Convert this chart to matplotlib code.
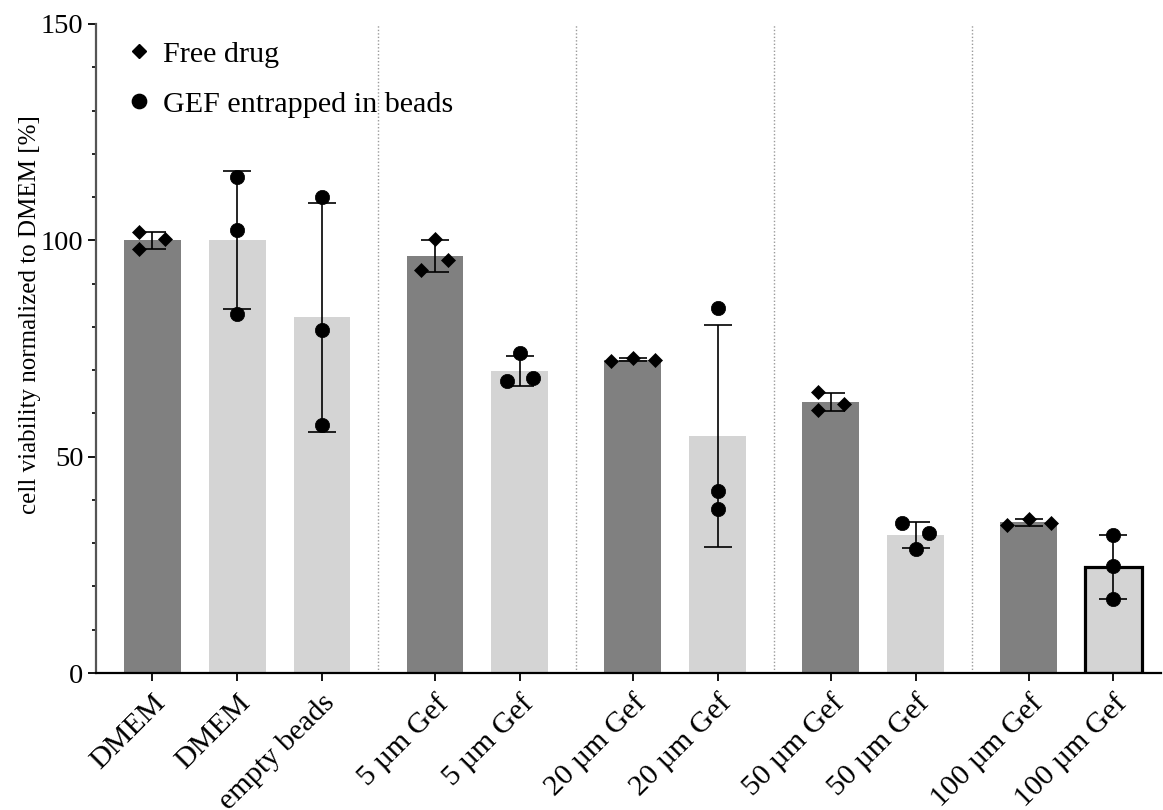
import numpy as np
import matplotlib
matplotlib.use("Agg")
import matplotlib.pyplot as plt
from matplotlib.lines import Line2D
from matplotlib.ticker import MultipleLocator

plt.rcParams['font.family'] = ['Liberation Serif', 'DejaVu Serif']

# ---- data -------------------------------------------------------------
categories = ["DMEM", "DMEM", "empty beads",
              "5 µm Gef", "5 µm Gef",
              "20 µm Gef", "20 µm Gef",
              "50 µm Gef", "50 µm Gef",
              "100 µm Gef", "100 µm Gef"]
formulation = ["free", "beads", "beads",
               "free", "beads",
               "free", "beads",
               "free", "beads",
               "free", "beads"]
group = [0, 0, 0, 1, 1, 2, 2, 3, 3, 4, 4]

# individual replicates (% viability relative to DMEM)
replicates = [
    [101.9, 97.9, 100.2],
    [114.6, 102.4, 83.0],
    [110.0, 79.2, 57.4],
    [100.4, 95.5, 93.1],
    [73.9, 67.4, 68.2],
    [72.2, 72.8, 72.3],
    [84.4, 42.1, 37.9],
    [65.0, 60.9, 62.1],
    [34.7, 32.3, 28.7],
    [34.2, 35.7, 34.6],
    [31.9, 24.7, 17.1],
]

# horizontal spread of the replicate symbols so overlapping points stay visible
spread = [
    [-0.16, -0.16, 0.155],
    [0, 0, 0],
    [0, 0, 0],
    [0, 0.155, -0.16],
    [0, -0.155, 0.155],
    [-0.26, 0, 0.26],
    [0, 0, 0],
    [-0.155, -0.155, 0.155],
    [-0.155, 0.155, 0],
    [-0.26, 0, 0.26],
    [0, 0, 0],
]

# ---- layout -------------------------------------------------------------
group_gap = 1 / 3
x = np.arange(len(categories)) + np.array(group) * group_gap
means = np.array([np.mean(r) for r in replicates])
sds = np.array([np.std(r, ddof=1) for r in replicates])

fill = {"free": "#808080", "beads": "#d4d4d4"}
marker = {"free": "D", "beads": "o"}
msize = {"free": 7.4, "beads": 10.3}

fig = plt.figure(figsize=(11.63, 8.10), dpi=100)
ax = fig.add_axes([0.0825, 0.1691, 0.9155, 0.8013])

# group separators
for g in range(1, max(group) + 1):
    left = x[np.array(group) == g - 1].max()
    right = x[np.array(group) == g].min()
    ax.axvline((left + right) / 2, color="#9a9a9a", lw=1.0, ls=(0, (1, 1.5)), zorder=0)

bar_w = 0.671
for i in range(len(categories)):
    kind = formulation[i]
    last = i == len(categories) - 1
    ax.bar(x[i], means[i], width=bar_w, color=fill[kind],
           edgecolor="black" if last else "none",
           linewidth=2.3 if last else 0, zorder=1)
    ax.errorbar(x[i], means[i], yerr=sds[i], fmt="none", ecolor="black",
                elinewidth=1.2, capsize=10, capthick=1.2, zorder=2)
    ax.plot(x[i] + np.array(spread[i]), replicates[i], ls="none",
            marker=marker[kind], ms=msize[kind], mfc="black", mec="black",
            mew=0.5, zorder=3)

ax.set_xlim(-0.665, 11.89)
ax.set_ylim(0, 150)
ax.yaxis.set_major_locator(MultipleLocator(50))
ax.yaxis.set_minor_locator(MultipleLocator(10))
ax.set_xticks(x)
ax.set_xticklabels(categories, rotation=45, ha="right", rotation_mode="anchor",
                   fontsize=21.7)
ax.tick_params(axis="y", which="major", length=6, width=1.3, labelsize=20.5, pad=3)
ax.tick_params(axis="y", which="minor", length=3, width=1.2)
ax.tick_params(axis="x", which="major", length=6, width=1.3, pad=6)

for s in ("top", "right"):
    ax.spines[s].set_visible(False)
ax.spines["left"].set_color("#555555")
ax.spines["left"].set_linewidth(1.6)
ax.spines["bottom"].set_color("black")
ax.spines["bottom"].set_linewidth(1.6)

ax.set_ylabel("cell viability normalized to DMEM [%]", fontsize=18)
ax.yaxis.set_label_coords(-0.052, 0.552)

handles = [
    Line2D([], [], ls="none", marker="D", ms=7.4, mfc="black", mec="black"),
    Line2D([], [], ls="none", marker="o", ms=10.3, mfc="black", mec="black"),
]
ax.legend(handles, ["Free drug", "GEF entrapped in beads"], loc="upper left",
          bbox_to_anchor=(0.026, 0.974), frameon=False, fontsize=21.7,
          handlelength=1.0, handletextpad=0.3, labelspacing=0.75,
          borderaxespad=0, borderpad=0)

fig.savefig("out.png", dpi=100)
